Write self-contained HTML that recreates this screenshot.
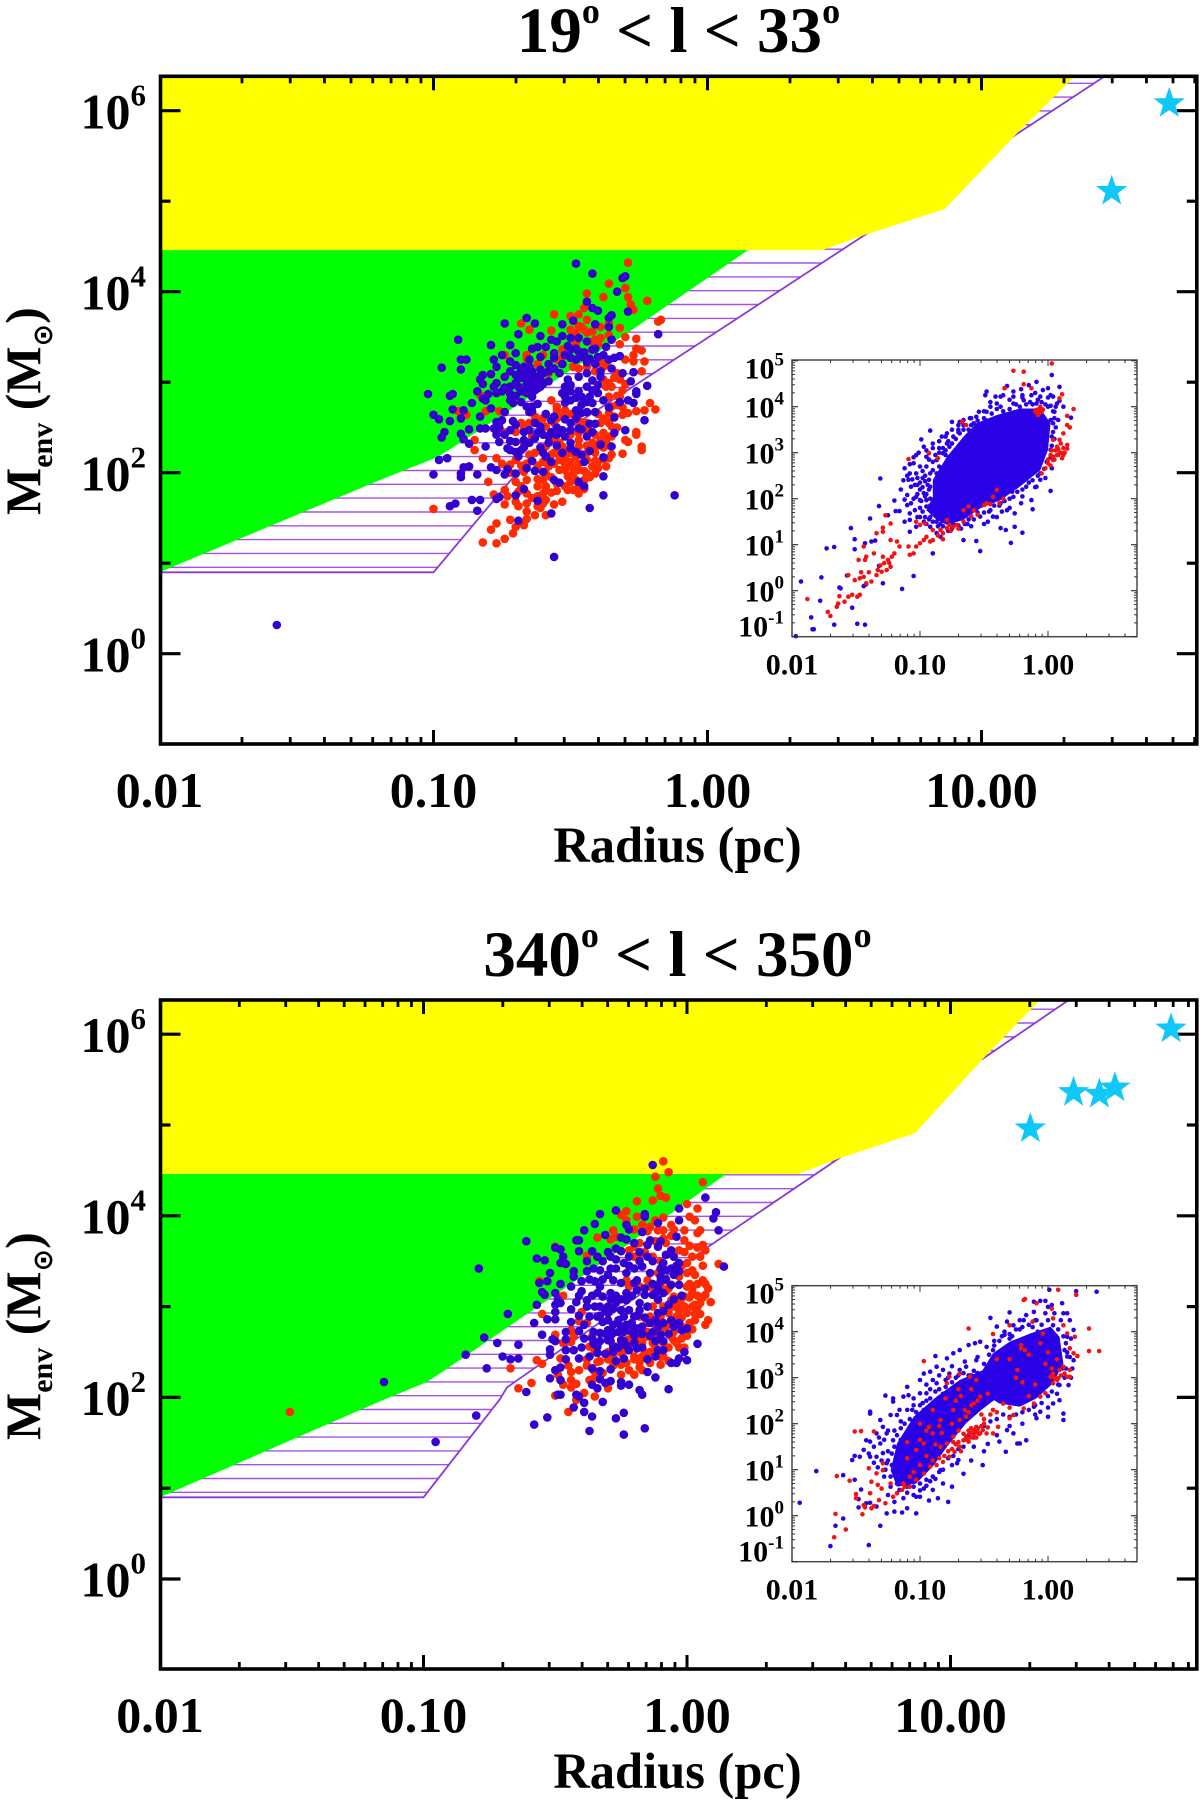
<!DOCTYPE html>
<html lang="en">
<head>
<meta charset="utf-8">
<title>Envelope mass versus radius</title>
<style>
html,body{margin:0;padding:0;background:#fff;}
svg{display:block;}
text{font-family:"Liberation Serif","DejaVu Serif",serif;font-weight:bold;fill:#000;}
</style>
</head>
<body>
<svg id="figure" xmlns="http://www.w3.org/2000/svg" width="1200" height="1806" viewBox="0 0 1200 1806">
<rect x="0" y="0" width="1200" height="1806" fill="#fff"/>
<g id="panel-1"></g>
<g id="panel-2"></g>
<g id="labels">
<text x="678.5" y="52" font-size="65" text-anchor="middle">19<tspan font-size="36" dy="-29">o</tspan><tspan dy="29"> &lt; l &lt; 33</tspan><tspan font-size="36" dy="-29">o</tspan></text>
<text x="677.5" y="976" font-size="65" text-anchor="middle">340<tspan font-size="36" dy="-29">o</tspan><tspan dy="29"> &lt; l &lt; 350</tspan><tspan font-size="36" dy="-29">o</tspan></text>
<text x="677.5" y="862" font-size="50.5" text-anchor="middle">Radius (pc)</text>
<text x="677.5" y="1788" font-size="50.5" text-anchor="middle">Radius (pc)</text>
<text transform="translate(40,515) rotate(-90)" font-size="50">M<tspan font-size="30" dy="12">env</tspan><tspan dy="-12"> (M</tspan><tspan font-size="27" dy="12" style="font-family:'DejaVu Sans',sans-serif">⊙</tspan><tspan dy="-12">)</tspan></text>
<text transform="translate(40,1440) rotate(-90)" font-size="50">M<tspan font-size="30" dy="12">env</tspan><tspan dy="-12"> (M</tspan><tspan font-size="27" dy="12" style="font-family:'DejaVu Sans',sans-serif">⊙</tspan><tspan dy="-12">)</tspan></text>
</g>
</svg>
<script>
// All pairs are [log10 radius (pc), log10 envelope mass (Msun)].
const xTickLabels = ['0.01','0.10','1.00','10.00'];
const xTickLogs = [-2,-1,0,1];
const yTickExponents = [0,2,4,6];
const yMinorExponents = [1,3,5];
const insetXTickLabels = ['0.01','0.10','1.00'];
const insetXTickLogs = [-2,-1,0];
const insetYExponents = [-1,0,1,2,3,4,5];

const yellowEdge = [[-2,6.38],[1.34,6.38],[1.13,5.75],[.865,4.91],[.575,4.63],[.42,4.46],[-2,4.46]];
const greenEdge = [[-2,4.46],[.148,4.46],[-.294,3.54],[-.929,2.28],[-.987,2.17],[-1.17,1.95],[-2,.90]];
const hatchEdge1 = [[-2,.90],[-1,.90],[-.626,2.25],[.575,4.63],[1.133,5.75],[1.45,6.38]];
const hatchEdge2 = [[-2,.90],[-1,.90],[-.71,1.98],[-.683,2.11],[.091,3.68],[.575,4.63],[1.133,5.75],[1.45,6.38]];

const stars1 = [[1.685,6.08],[1.475,5.11]];
const stars2 = [[1.837,6.06],[1.467,5.36],[1.565,5.34],[1.624,5.41],[1.303,4.96]];

const panel1Red = [[-.29,4.32],[-.36,4.09],[-.30,4.04],[-.44,3.98],[-.38,3.94],[-.29,3.94],[-.28,3.86],[-.22,3.90],[-.27,3.80],[-.45,3.82],[-.47,3.75],[-.56,3.75],[-.50,3.73],[-.68,3.65],[-.65,3.58],[-.57,3.57],[-.44,3.69],[-.46,3.61],[-.50,3.58],[-.48,3.54],[-.42,3.56],[-.39,3.49],[-.36,3.52],[-.32,3.60],[-.30,3.50],[-.32,3.42],[-.26,3.48],[-.24,3.35],[-.26,3.37],[-.27,3.30],[-.27,3.23],[-.23,3.23],[-.24,3.12],[-.18,3.67],[-.17,3.69],[-.21,2.77],[-.19,2.70],[-.23,2.69],[-.26,2.68],[-.29,2.66],[-.31,2.64],[-.26,2.45],[-.26,2.42],[-.30,2.36],[-.29,2.34],[-.24,2.29],[-.24,2.25],[-.31,2.21],[-.36,2.16],[-.37,2.07],[-.40,2.12],[-.42,2.07],[-.44,1.99],[-.47,2.03],[-.49,1.99],[-.52,2.03],[-.54,2.14],[-.56,2.22],[-.53,2.29],[-.58,2.07],[-.59,1.99],[-.59,1.85],[-.59,1.81],[-.56,1.65],[-.53,1.68],[-.49,1.81],[-.47,1.77],[-.51,1.81],[-.55,1.88],[-.62,1.74],[-.60,1.66],[-.61,1.61],[-.59,1.53],[-.63,1.53],[-.66,1.57],[-.69,1.63],[-.70,1.68],[-.73,1.74],[-.74,1.65],[-.74,1.81],[-.78,1.76],[-.80,1.90],[-.82,2.16],[-.77,2.16],[-.85,2.25],[-.85,2.36],[-.75,2.10],[-.72,2.09],[-.67,2.01],[-.66,1.92],[-.62,1.93],[-.66,1.77],[-.71,1.33],[-.70,1.40],[-.67,1.42],[-.66,1.49],[-.72,1.48],[-.77,1.44],[-.79,1.37],[-.82,1.23],[-.77,1.22],[-.74,1.27],[-1.00,1.60],[-.83,2.86],[-.81,2.68],[-.88,2.64],[-.91,2.68],[-.76,2.68],[-.75,2.45],[-.76,2.55],[-.67,2.51],[-.65,2.55],[-.62,2.57],[-.59,2.51],[-.56,2.55],[-.55,2.73],[-.55,2.69],[-.57,2.80],[-.52,2.69],[-.48,2.58],[-.47,2.58],[-.44,2.55],[-.39,2.55],[-.37,2.58],[-.36,2.66],[-.35,2.73],[-.36,2.84],[-.37,2.95],[-.36,2.99],[-.38,3.03],[-.41,3.12],[-.39,3.21],[-.38,3.17],[-.44,3.17],[-.49,3.17],[-.53,3.28],[-.52,3.34],[-.66,3.26],[-.74,3.30],[-.50,2.22],[-.48,2.18],[-.47,2.29],[-.42,2.33],[-.38,2.44],[-.36,2.40],[-.41,2.22],[-.44,2.14],[-.52,2.10],[-.50,2.07],[-.47,2.10],[-.54,2.18],[-.56,2.36],[-.59,2.29],[-.54,2.33],[-.52,2.25],[-.32,2.84],[-.31,2.91],[-.35,2.95],[-.32,3.03],[-.30,3.25],[-.39,3.61],[-.41,3.47],[-.45,3.58],[-.48,3.43],[-.53,3.36],[-.55,3.25],[-.64,2.40],[-.63,2.22],[-.66,2.10],[-.67,2.33],[-.54,2.03],[-.51,1.96],[-.48,1.92],[-.45,1.92],[-.61,1.74],[-.62,1.63],[-.66,1.66],[-.69,1.79],[-.59,1.70],[-.41,1.99],[-.44,2.22],[-.37,2.36],[-.35,2.51],[-.39,2.36],[-.47,2.36],
[-.52,2.4],[-.5,2.42],[-.47,2.44],[-.45,2.48],[-.43,2.45],[-.41,2.42],[-.44,2.3],[-.42,2.25],[-.4,2.3],[-.38,2.28],[-.36,2.3],[-.35,2.4],[-.33,2.5],[-.34,2.62],[-.36,2.55],[-.38,2.6],[-.4,2.65],[-.33,2.75],[-.31,2.72],[-.33,2.85],[-.34,3.05],[-.33,3.1],[-.3,2.98],[-.35,2.2],[-.38,2.15],[-.4,2.05],[-.45,2.02],[-.48,2.05],[-.5,2.12],[-.52,2.18],[-.54,2.26],[-.57,2.2],[-.56,2.1],[-.58,2.15],[-.6,2.12],[-.57,1.95],[-.6,1.92],[-.62,1.85],[-.57,1.78],[-.55,1.8],[-.52,1.85],[-.5,1.9],[-.47,1.86],[-.45,1.82],[-.43,1.95],[-.41,2.13],[-.62,2.08],[-.65,2.2],[-.7,2.14],[-.68,2.08],[-.72,2.0],[-.7,1.9],[-.68,1.85],[-.64,1.72],[-.6,1.77],[-.55,2.6],[-.53,2.62],[-.5,2.65],[-.46,2.55],[-.6,2.6],[-.63,2.62],[-.68,2.55],[-.7,2.45],[-.58,3.1],[-.62,3.2],[-.66,3.3],[-.6,3.3],[-.47,3.15],[-.42,3.45],[-.4,3.42],[-.44,3.55],[-.47,3.62],[-.36,3.65],[-.37,3.2]];

const panel1Blue = [[-.48,4.31],[-.42,4.20],[-.30,4.17],[-.31,4.15],[-.33,4.00],[-.44,3.89],[-.42,3.82],[-.40,3.79],[-.29,3.78],[-.35,3.74],[-.36,3.71],[-.36,3.61],[-.41,3.64],[-.49,3.68],[-.53,3.64],[-.63,3.65],[-.66,3.71],[-.74,3.65],[-.91,3.47],[-.79,3.41],[-.69,3.53],[-.61,3.51],[-.57,3.47],[-.55,3.45],[-.53,3.51],[-.50,3.49],[-.47,3.49],[-.44,3.45],[-.35,3.47],[-.37,3.39],[-.72,3.41],[-.70,3.32],[-.75,3.30],[-.78,3.25],[-.77,3.17],[-.88,3.25],[-.90,3.25],[-.90,3.14],[-.97,3.16],[-1.02,2.87],[-.94,2.85],[-.93,2.87],[-.86,2.77],[-.93,2.70],[-.89,2.69],[-.90,2.60],[-1.00,2.64],[-.98,2.59],[-.94,2.57],[-.96,2.45],[-.97,2.39],[-.90,2.43],[-.89,2.37],[-.87,2.32],[-.87,2.48],[-.83,2.62],[-.83,2.49],[-.81,2.49],[-.78,2.49],[-.76,2.50],[-.77,2.42],[-.76,2.34],[-.73,2.27],[-.81,2.29],[-.98,2.14],[-.95,2.16],[-1.00,1.98],[-.87,2.07],[-.89,2.06],[-.90,1.99],[-.90,1.95],[-.84,1.98],[-.79,2.06],[-.77,2.03],[-.74,1.98],[-.73,2.04],[-.70,1.99],[-.64,2.13],[-.63,2.02],[-.60,2.01],[-.57,2.12],[-.56,1.92],[-.54,1.89],[-.47,1.90],[-.45,1.85],[-.38,1.96],[-.38,1.75],[-.43,1.61],[-.57,1.55],[-.62,1.69],[-.67,1.82],[-.70,1.75],[-.76,1.73],[-.77,1.71],[-.83,1.70],[-.86,1.70],[-.92,1.66],[-.94,1.63],[-.84,1.58],[-.69,1.47],[-.56,1.07],[-.12,1.75],[-.18,3.53],[-.22,2.96],[-.23,2.58],[-.26,2.87],[-.27,2.77],[-.29,2.80],[-.30,2.47],[-.34,2.44],[-.35,2.29],[-.38,2.17],[-.34,2.61],[-.32,2.78],[-.31,3.10],[-.27,3.11],[-.28,3.01],[-.26,2.90],[-.32,3.29],[-.34,3.27],[-.36,3.25],[-.35,3.15],[-.39,3.12],[-.39,3.06],[-.42,3.02],[-.44,3.10],[-.47,3.06],[-.51,3.03],[-.54,3.10],[-.58,3.01],[-.61,3.03],[-.64,2.95],[-.66,2.97],[-.63,2.99],[-.63,2.91],[-.61,2.95],[-.64,2.84],[-.66,2.88],[-.69,2.95],[-.70,2.99],[-.74,3.06],[-.77,2.99],[-.74,2.94],[-.77,2.88],[-.79,3.09],[-.82,3.08],[-.83,3.03],[-.82,2.98],[-.72,3.23],[-.70,3.19],[-.67,3.17],[-.65,3.25],[-.61,3.28],[-.64,3.37],[-.62,3.39],[-.59,3.39],[-.56,3.32],[-.56,3.27],[-.58,3.20],[-.65,3.17],[-.66,3.10],[-.64,3.06],[-.61,3.14],[-.51,3.40],[-.50,3.36],[-.47,3.34],[-.46,3.28],[-.48,3.25],[-.42,3.36],[-.41,3.37],[-.43,3.26],[-.53,2.88],[-.52,2.84],[-.50,2.90],[-.47,2.90],[-.46,2.84],[-.50,2.80],[-.52,2.77],[-.48,2.69],[-.43,2.84],[-.42,2.91],[-.40,2.88],[-.42,2.77],[-.41,2.67],[-.44,2.67],[-.46,2.66],[-.59,2.65],[-.56,2.62],[-.57,2.58],[-.52,2.59],[-.64,2.73],[-.65,2.67],[-.72,2.80],[-.71,2.77],[-.74,2.67],[-.81,2.80],[-.79,2.71],[-.82,2.82],[-.71,2.57],[-.70,2.53],[-.72,2.47],[-.67,2.45],[-.65,2.47],[-.61,2.51],[-.61,2.47],[-.62,2.44],[-.58,2.40],[-.58,2.33],[-.55,2.42],[-.53,2.47],[-.50,2.47],[-.47,2.49],[-.43,2.54],[-.41,2.54],[-.44,2.40],[-.52,2.40],[-.50,2.33],[-.50,2.27],[-.48,2.23],[-.43,2.24],[-.45,2.12],[-.39,2.31],[-.67,2.36],[-.67,2.28],[-.70,2.34],[-.70,2.23],[-.69,2.18],[-.61,2.28],[-.60,2.22],[-.59,2.18],[-1.572,.317],
[-.68,3.05],[-.66,3.02],[-.64,3.0],[-.62,2.93],[-.60,2.98],[-.66,2.92],[-.68,2.9],[-.70,3.08],[-.72,3.12],[-.68,3.14],[-.64,3.12],[-.62,3.06],[-.60,3.1],[-.58,3.12],[-.56,3.15],[-.53,3.2],[-.52,3.3],[-.50,3.27],[-.48,3.37],[-.45,3.33],[-.44,3.22],[-.41,3.2],[-.40,3.28],[-.38,3.3],[-.72,2.87],[-.70,2.85],[-.68,2.78],[-.66,2.73],[-.64,2.68],[-.62,2.76],[-.72,2.95],[-.75,2.9],[-.78,2.95],[-.8,2.87],[-.84,2.9],[-.52,2.95],[-.5,2.97],[-.48,2.83],[-.46,2.75],[-.44,2.78],[-.44,2.95],[-.4,2.97],[-.38,2.8],[-.36,2.72],[-.48,2.6],[-.5,2.55],[-.46,2.48],[-.42,2.45],[-.55,2.5],[-.57,2.45],[-.6,2.42],[-.63,2.55],[-.65,2.33],[-.63,2.38],[-.55,2.3],[-.53,2.22],[-.46,2.2],[-.75,2.58],[-.77,2.56],[-.74,2.42],[-.72,2.35],[-.72,2.25],[-.68,2.25],[-.66,2.05]];

const panel2Red = [[-.09,4.60],[-.07,4.48],[-.12,4.43],[-.11,4.30],[-.13,4.17],[-.08,4.20],[-.10,4.22],[.06,4.37],[-.19,4.16],[0,4.13],[.04,4.08],[-.23,4.05],[-.25,4.01],[-.19,3.99],[-.23,3.95],[-.28,3.84],[-.34,3.76],[-.29,3.74],[-.27,3.77],[-.38,3.56],[-.34,3.55],[-.50,3.66],[-.56,3.28],[-.47,3.12],[-.55,2.92],[-.67,2.32],[-.57,2.41],[-.55,2.37],[-.64,2.10],[-.59,2.16],[-.50,2.02],[-.45,1.84],[-.41,2.30],[-.44,2.28],[-.44,2.19],[-.44,2.11],[-.47,2.14],[-.49,2.25],[-.48,2.43],[-.50,2.69],[-.44,2.61],[-.44,2.74],[-.41,2.84],[-.40,2.94],[-.38,2.42],[-.37,2.56],[-.34,2.39],[-.35,2.22],[-.37,2.19],[-.30,2.10],[-.35,2.01],[-.42,1.97],[.12,3.47],[.07,2.80],[.03,2.85],[.05,3.04],[.07,3.13],[.03,3.02],[.06,3.29],[.07,3.25],[.04,3.25],[.02,3.15],[0,2.93],[-.03,2.96],[-.05,2.63],[-.06,2.67],[-.09,2.60],[-.13,2.60],[-.18,2.33],[-.22,2.30],[-.25,2.36],[-.27,2.56],[-.25,2.49],[-.21,2.60],[-.19,2.63],[-.15,2.67],[-.11,2.67],[-.06,2.82],[-.04,2.89],[-.06,3.07],[-.09,3.0],[-.11,3.07],[-.14,3.22],[-.15,3.29],[-.11,3.37],[-.08,3.29],[-.03,3.33],[0,3.37],[.02,3.40],[.05,3.55],[.07,3.62],[.06,3.68],[.04,3.81],[.05,3.84],[.03,3.95],[.01,3.99],[-.01,3.84],[-.01,3.73],[.01,3.67],[-.06,3.90],[-.09,3.84],[-.11,3.84],[-.14,3.88],[-.09,3.98],[-.18,3.70],[-.20,3.66],[-.22,3.62],[-.18,3.57],[-.13,3.55],[-.10,3.50],[-.09,3.40],[-.05,3.11],[-.01,3.11],[.02,3.20],[-.08,3.17],[-.10,3.22],[-.13,3.0],[-.18,2.89],[-.15,2.82],[-.23,2.63],[-.25,2.71],[-.11,2.83],[-.08,2.78],[-.17,2.60],[-.20,2.45],[-.18,2.39],[-.23,2.38],[-.28,2.45],[-.32,2.27],[-.355,2.30],[-.34,2.49],[-.36,2.67],[-.38,2.82],[0,3.22],[-.03,3.07],[-.05,3.0],[-.10,2.89],[-.14,2.89],[-.05,3.42],[-.23,3.29],[-.22,3.22],[-.18,3.22],[-.02,3.02],[.01,3.1],[.04,3.0],[-.02,2.78],[-.07,2.93],[-.07,3.2],[-.12,2.75],[-.15,3.0],[-.2,2.75],[-.16,2.5],[-.1,2.45],[-1.507,1.84],
[-.2,2.42],[-.17,2.45],[-.14,2.5],[-.12,2.55],[-.09,2.45],[-.07,2.55],[-.04,2.6],[-.02,2.65],[0,2.68],[.01,2.82],[.03,2.92],[-.01,3.0],[-.02,2.88],[.02,3.0],[.05,2.92],[.06,3.1],[.08,3.2],[.09,3.05],[.04,3.12],[.01,3.25],[.03,3.35],[.06,3.45],[.02,3.55],[.04,3.65],[-.01,3.6],[0,3.48],[-.02,3.45],[.08,2.85],[.02,2.75],[-.05,2.72],[-.03,2.55],[-.01,2.55],[-.07,2.4],[-.1,2.36],[-.14,2.38],[-.17,2.3],[-.2,2.25],[-.25,2.25],[-.28,2.35],[-.3,2.42],[-.33,2.4],[-.3,2.5],[-.23,2.52],[-.15,2.72],[-.13,2.68],[-.1,2.72],[-.17,2.65],[-.21,2.68],[-.25,2.55],[-.35,2.5],[-.38,2.35],[-.42,2.15],[-.39,2.05],[-.45,2.35],[-.47,2.6],[-.43,2.68],[-.08,3.7],[-.12,3.72],[-.16,3.6],[-.2,3.55],[-.06,3.78],[-.03,3.62],[-.17,3.9],[-.15,3.83],[-.2,3.85],[-.12,3.95],[-.09,3.75],[-.05,3.85]];

const panel2Blue = [[-.13,4.56],[-.16,4.02],[-.16,3.99],[-.27,4.06],[-.33,4.02],[-.35,3.91],[-.39,3.84],[-.61,3.72],[-.41,3.73],[-.42,3.73],[-.31,3.79],[-.23,3.90],[-.22,3.85],[-.25,3.76],[-.23,3.74],[-.17,3.82],[-.11,3.92],[-.03,4.08],[-.03,3.95],[-.04,3.77],[.11,4.04],[.10,3.97],[.12,3.84],[.07,4.20],[.14,3.44],[-.50,3.65],[-.48,3.63],[-.47,3.55],[-.48,3.48],[-.46,3.47],[-.57,3.53],[-.54,3.51],[-.41,3.61],[-.36,3.61],[-.79,3.42],[-.52,3.37],[-.53,3.28],[-.48,3.25],[-.56,3.26],[-.55,3.16],[-.54,3.13],[-.50,3.15],[-.49,3.08],[-.48,3.04],[-.50,3.02],[-.50,2.94],[-.57,3.02],[-.68,2.92],[-.58,2.82],[-.53,2.86],[-.50,2.86],[-.44,2.97],[-.44,2.83],[-.41,2.73],[-.55,2.69],[-.51,2.64],[-.50,2.62],[-.46,2.64],[-.46,2.72],[-.52,2.53],[-.52,2.47],[-.46,2.52],[-.43,2.52],[-.46,2.42],[-.50,2.30],[-.48,2.33],[-.52,2.21],[-.48,2.19],[-.48,2.03],[-.49,2.03],[-.77,2.66],[-.72,2.60],[-.64,2.58],[-.84,2.47],[-.70,2.45],[-.67,2.42],[-.64,2.43],[-.76,2.32],[-.80,1.80],[-.61,2.06],[-.43,1.89],[-.53,1.78],[-.58,1.70],[-.39,1.84],[-.36,1.79],[-.37,1.63],[-.27,1.77],[-.24,1.83],[-.24,1.59],[-.16,1.66],[-.32,1.95],[-.39,1.94],[-.41,2.01],[-.42,2.03],[-.33,2.29],[-.29,2.31],[-.29,2.18],[-.31,2.16],[-.25,2.17],[-.25,2.13],[-.22,2.14],[-.18,2.08],[-.17,2.03],[-.07,2.09],[-.15,2.28],[-.12,2.22],[.04,2.59],[-.06,2.38],[-.04,2.38],[-.03,2.43],[-.01,2.50],[0,2.41],[-.02,2.74],[0,2.76],[-.09,2.52],[-.11,2.52],[-.12,2.45],[-.15,2.42],[-.19,2.54],[-.22,2.52],[-.24,2.43],[-.27,2.40],[-.36,2.14],[-.34,2.10],[-.34,2.49],[-.31,2.48],[-.355,2.59],[-.34,2.56],[-.28,2.56],[-.24,2.62],[-.29,2.62],[-.25,2.63],[-.17,2.78],[-.19,2.76],[-.13,2.72],[-.10,2.69],[-.11,2.78],[-.09,2.82],[-.06,2.85],[-.11,2.93],[-.15,3.0],[-.18,2.96],[-.20,2.89],[-.25,2.96],[-.24,2.89],[-.30,3.0],[-.30,2.93],[-.32,2.83],[-.30,2.74],[-.33,2.71],[-.355,2.72],[-.37,2.89],[-.34,2.89],[-.33,3.22],[-.34,3.15],[-.32,3.11],[-.29,3.15],[-.28,3.29],[-.25,3.26],[-.23,3.37],[-.20,3.26],[-.19,3.29],[-.14,3.37],[-.10,3.33],[-.10,3.28],[-.17,3.44],[-.18,3.50],[-.22,3.55],[-.25,3.61],[-.27,3.64],[-.29,3.55],[-.32,3.50],[-.33,3.40],[-.355,3.42],[-.38,3.39],[-.43,3.39],[-.43,3.33],[-.40,3.28],[-.40,3.17],[-.42,3.05],[-.38,3.07],[-.38,3.0],[-.44,3.22],[-.15,3.68],[-.14,3.73],[-.11,3.66],[-.10,3.72],[-.06,3.62],[-.08,3.57],[-.05,3.55],[-.03,3.48],[-.03,3.39],[-.05,3.35],[-.06,3.24],[-.03,3.24],[-.02,3.12],[-.09,3.48],[-.13,3.13],[-.16,3.13],[-.18,3.04],[-.23,3.07],[-.27,3.04],[-.25,2.78],[-.22,2.74],[-.28,2.71],[-.30,2.63],[-1.15,2.17],[-.954,1.51],
[-.33,3.0],[-.31,2.95],[-.29,3.08],[-.27,3.12],[-.25,3.08],[-.23,3.15],[-.21,3.12],[-.19,3.18],[-.16,3.2],[-.13,3.25],[-.11,3.2],[-.08,3.3],[-.06,3.42],[-.04,3.45],[-.1,3.42],[-.13,3.5],[-.15,3.55],[-.18,3.6],[-.2,3.42],[-.22,3.45],[-.24,3.48],[-.27,3.42],[-.3,3.35],[-.32,3.3],[-.35,3.28],[-.36,3.12],[-.35,3.0],[-.33,2.9],[-.3,2.85],[-.28,2.8],[-.26,2.85],[-.23,2.8],[-.21,2.82],[-.19,2.9],[-.16,2.88],[-.14,2.82],[-.12,2.85],[-.09,2.95],[-.07,3.02],[-.05,3.08],[-.11,3.08],[-.09,3.15],[-.22,2.96],[-.28,2.98],[-.31,2.7],[-.29,2.68],[-.26,2.72],[-.24,2.72],[-.2,2.68],[-.17,2.7],[-.14,2.68],[-.12,2.62],[-.09,2.62],[-.07,2.7],[-.05,2.78],[-.03,2.82],[-.28,2.5],[-.26,2.55],[-.23,2.57],[-.2,2.6],[-.17,2.55],[-.33,2.62],[-.36,2.65],[-.39,2.8],[-.41,2.9],[-.39,2.65],[-.37,2.45],[-.41,2.43],[-.4,2.55],[-.41,3.12],[-.37,3.3],[-.29,3.42],[-.36,2.32],[-.33,2.2],[-.38,3.5],[-.34,3.55],[-.3,3.6],[-.27,3.52],[-.2,3.7],[-.08,3.4],[-.12,3.15]];

const inset1Core = [[-.90,2.04],[-.90,2.41],[-.79,2.91],[-.66,3.35],[-.56,3.64],[-.40,3.82],[-.22,3.96],[-.06,3.96],[.02,3.64],[0,3.06],[-.06,2.62],[-.22,2.26],[-.37,1.97],[-.53,1.79],[-.66,1.54],[-.79,1.43],[-.87,1.54],[-.95,1.75]];

const inset1Red = [[.03,4.94],[-.27,4.78],[-.19,4.76],[-.19,4.49],[.11,4.27],[.09,4.18],[.2,3.95],[.15,3.8],[.15,3.6],[.17,3.55],[.15,3.17],[.15,3.09],[.12,2.95],[.09,2.99],[.07,2.95],[.04,2.84],[0,2.77],[-.02,2.66],[-.05,2.55],[-1.88,-.18],[-1.72,-.46],[-1.70,-.55],[-1.65,-.35],[-1.64,-.28],[-1.63,-.12],[-1.59,-.24],[-1.56,-.13],[-1.53,-.09],[-1.49,-.13],[-1.47,-.09],[-1.56,.34],[-1.51,.23],[-1.47,.27],[-1.44,.3],[-1.42,.16],[-1.38,.2],[-1.34,.34],[-1.30,.41],[-1.26,.45],[-1.23,.52],[-1.25,.67],[-1.29,.74],[-1.22,.74],[-1.2,.81],[-1.16,.96],[-1.18,1.07],[-1.23,1.1],[-1.29,1.28],[-1.29,1.37],[-1.34,1.25],[-1.27,1.64],[-1.23,1.46],[-1.43,.67],[-1.42,.74],[-1.48,.67],[-1.44,.96],[-1.36,.81],[-1.09,.96],[-1.05,.81],[-1.08,.78],[-1.03,.96],[-1,1.03],[-.97,1.10],[-.95,1.17],[-.92,1.07],[-.9,1.1],[-.82,1.25],[-.79,1.36],[-.77,1.43],[-.74,1.39],[-.79,1.54],[-1.03,1.5],[-1,1.43],[-.96,1.46],[-.9,1.32],[-.84,1.32],[-.71,1.43],[-.66,1.75],[-.62,1.83],[-.58,1.75],[-.5,1.86],[-.48,1.9],[-.43,2.04],[-.4,2.19],[-1.09,2.86],[-.93,2.99],[-.86,2.88],[-.67,3.67],[-.64,3.6],[-.34,4.4],[-.13,4.4],[.09,3.28],[.12,3.42],[.04,3.28],[.07,3.13],[.08,2.95],[.04,2.91],[.02,2.95],[-.09,3.93],[-.06,4],[-.08,3.82],[-.1,3.89],[-.05,3.89],[.1,3.0],[.12,3.1],[.06,3.05],[.1,3.2],[.03,3.05],[-1.33,.45],[-1.31,.55],[-1.28,.6],[-1.24,.6],[-1.4,.4],[-1.46,.4],[-.86,1.2],[-.82,1.12],[-.76,1.3],[-.7,1.35],[-.66,1.5],[-.6,1.62],[-.55,1.65],[-.45,1.88],[-.38,1.9],[-.35,2.0],[.11,2.88],[.13,3.0],[.05,2.85],[.08,3.08],[.0,2.85],[.02,2.72],[-.07,3.86],[-.04,3.94],[-.07,3.95]];

const inset1Blue = [[-1.97,-.99],[-1.93,.2],[-1.85,-.58],[-1.84,-.84],[-1.83,-.84],[-1.77,.29],[-1.78,-.22],[-1.63,.07],[-1.62,.05],[-1.67,-.74],[-1.53,-.37],[-1.49,-.72],[-1.43,-.74],[-1.57,.33],[-1.73,.92],[-1.67,.95],[-1.54,1.36],[-1.51,1.12],[-1.51,.9],[-1.43,1.03],[-1.39,1.57],[-1.38,1.07],[-1.35,1.09],[-1.31,2.44],[-1.32,1.84],[-1.2,1.96],[-1.25,1.64],[-1.19,1.73],[-1.16,1.73],[-1.12,1.5],[-1.08,1.28],[-1.05,.32],[-1.14,.04],[-1.44,.1],[-1.32,.54],[-1.29,.16],[-1.42,.14],[-.9,.81],[-.53,.86],[-.56,1.08],[-.66,1.1],[-.29,1.04],[-.37,1.36],[-.33,1.32],[-.26,1.39],[-.2,1.26],[-.43,1.61],[-.32,1.75],[-.26,1.68],[-.12,1.77],[-.13,1.97],[-.21,1.9],[-.09,2.26],[.02,2.17],[-.06,2.41],[.03,2.66],[.03,4.69],[.09,4.43],[.09,4.13],[.12,4.0],[.18,3.76],[-.32,4.45],[-.48,4.33],[-.49,4.25],[-.41,4.22],[-.35,4.25],[-.27,4.33],[-.21,4.38],[-.09,4.54],[-.15,4.47],[-.04,4.36],[0,4.40],[.02,4.25],[.04,4.22],[.07,4.07],[-.06,4.22],[-.13,4.25],[-.27,4.07],[-.37,4.0],[-.48,3.89],[-.54,3.89],[-.61,3.75],[-.66,3.71],[-.69,3.67],[-.75,3.67],[-.79,3.42],[-.83,3.35],[-.92,3.48],[-.99,3.29],[-.90,3.2],[-.97,3.13],[-1.03,2.95],[-.95,2.91],[-1.05,2.77],[-1.12,2.66],[-1.08,2.55],[-1.03,2.55],[-1.09,2.41],[-1.07,2.26],[-1.10,2.08],[-1.03,2.04],[-1.0,1.97],[-1.04,1.75],[-1.10,1.86],[-1.08,1.68],[-1.08,1.54],[-1.03,1.39],[-.97,1.5],[-.92,1.39],[-.87,1.25],[-.84,1.17],[-.90,1.68],[-.95,1.83],[-.97,2.12],[-.93,2.41],[-.90,2.62],[-.79,3.2],[-.74,3.35],[-.69,3.42],[-.58,3.64],[-.56,3.78],[-.56,3.42],[-.37,4.22],[-.40,4.07],[-.27,4.22],[-.19,4.14],[-.09,4.07],[0,4.0],[.05,3.89],[.08,3.71],[.04,3.64],[-.87,2.84],[-.82,2.99],[-.77,3.13],[-.87,2.55],[-.92,2.26],[-.95,1.97],[-.87,1.83],[-.79,1.68],[-.74,1.54],[-.69,1.61],[-.61,1.68],[-.53,1.61],[-.45,1.75],[-.37,1.9],[-.27,2.04],[-.17,2.26],[-.06,2.55],[.02,3.06],[.03,3.35],[.02,3.71],[-.06,3.89],[-1.02,2.3],[-1.0,2.7],[-.98,2.45],[-1.0,2.2],[-.85,3.0],[-.7,3.5],[-.45,4.0],[-.2,4.2],[-.14,4.1],[-.96,2.05],[-1.02,1.6],[-.92,1.6],[-.84,1.45],[-.75,1.35],[-.63,1.45],[-.47,1.5],[-.36,1.72],
[-1.1,2.5],[-1.06,2.42],[-1.04,2.3],[-1.02,2.45],[-1,2.35],[-.98,2.6],[-.96,2.5],[-.94,2.3],[-.92,2.55],[-.95,2.7],[-.93,2.85],[-.9,2.8],[-.88,2.95],[-.85,2.7],[-.85,3.1],[-.82,3.1],[-.8,3.05],[-.8,2.95],[-.78,3.25],[-.75,3.2],[-.72,3.3],[-.7,3.45],[-.66,3.5],[-.62,3.5],[-.6,3.6],[-.55,3.7],[-.5,3.75],[-.48,3.7],[-.44,3.85],[-.4,3.95],[-.35,3.9],[-.3,3.95],[-.25,4.05],[-.22,4.0],[-.17,4.05],[-.12,4.05],[-.05,4.1],[-.02,4.05],[.02,4.02],[.04,3.9],[.05,3.75],[.06,3.55],[.04,3.45],[.05,3.3],[.03,3.15],[.02,2.9],[-.01,2.8],[-.03,2.65],[-.08,2.5],[-.12,2.4],[-.15,2.35],[-.2,2.2],[-.24,2.15],[-.28,2.15],[-.3,2.0],[-.34,1.95],[-.38,1.85],[-.42,1.85],[-.46,1.72],[-.5,1.7],[-.55,1.7],[-.58,1.55],[-.62,1.55],[-.65,1.45],[-.7,1.42],[-.74,1.45],[-.78,1.3],[-.82,1.4],[-.86,1.4],[-.9,1.5],[-.93,1.55],[-.96,1.6],[-.98,1.72],[-1,1.8],[-.92,1.85],[-.88,1.75],[-.84,1.65],[-.8,1.55],[-.99,1.95],[-1.02,2.1],[-1.05,2.0],[-1.07,1.9],[-.95,2.1],[-.92,2.0],[-.98,2.25],[-.96,2.38],[-.93,2.2],[-1.12,1.98],[-1.15,2.2],[-1.13,2.4],[-1.08,2.75],[-1.05,2.9],[-1.01,3.0],[-.95,3.05],[-.9,3.1],[-.85,3.25],[-.8,3.35],[-.75,3.5],[-.7,3.6],[-.66,3.6],[-.6,3.75],[-.5,3.9],[-.45,4.1],[-.3,4.15],[-.2,4.25],[-.1,4.3],[0,4.2],[-.08,4.15],[.06,4.0],[-1.0,1.6],[-.95,1.45],[-.87,1.5],[-.76,1.55],[-.68,1.35],[-.6,1.4],[-.5,1.45],[-.4,1.6],[-.3,1.8],[-.2,2.05],[-.1,2.25],[-.02,2.45]];

const inset2CoreUpper = [[-.51,3.17],[-.43,3.53],[-.30,3.78],[-.14,3.96],[.02,4.11],[.09,3.89],[.12,3.31],[.04,2.88],[-.09,2.55],[-.22,2.37],[-.38,2.44],[-.51,2.66]];
const inset2CoreLower = [[-1.18,1.57],[-1.05,2.15],[-.87,2.59],[-.69,2.95],[-.48,3.2],[-.38,2.6],[-.52,2.3],[-.64,2.01],[-.77,1.57],[-.90,1.07],[-1.03,.70],[-1.18,.63],[-1.23,.99]];

const inset2Red = [[-1.51,1.83],[-1.46,1.84],[-1.36,1.83],[-1.65,.86],[-1.55,.76],[-1.66,.04],[-1.67,-.47],[-1.58,-.3],[-1.5,.47],[-1.5,.38],[-1.39,.49],[-1.45,.03],[-1.44,.23],[-1.43,.18],[-1.38,.16],[-1.36,.21],[-1.32,.34],[-1.27,.27],[-1.4,1.03],[-1.38,.74],[-1.34,.92],[-1.33,.67],[-1.3,.59],[-1.29,1.14],[-1.29,.99],[-1.23,.7],[-1.21,.41],[-1.14,.56],[-1.12,.63],[-1.08,.85],[-1.18,.49],[-.97,3.36],[-.62,4.07],[-.19,4.69],[-.18,4.71],[.08,4.91],[.22,4.8],[.32,4.07],[.32,3.58],[.40,3.58],[.23,3.47],[.17,3.64],[.2,3.53],[.17,3.17],[.15,3.02],[.07,2.95],[.04,2.88],[.09,3.17],[.12,3.24],[.02,3.02],[.04,3.09],[.13,3.09],[.17,3.02],[.08,2.99],[-.02,2.66],[-.06,2.59],[-.11,2.44],[-.19,2.33],[-.27,2.19],[-.30,2.12],[-.39,1.93],[-.43,1.79],[-.48,1.79],[-.51,1.86],[-.53,1.79],[-.56,1.93],[-.58,1.86],[-.61,1.79],[-.64,1.72],[-.66,1.64],[-.62,1.61],[-.58,1.72],[-.69,1.5],[-.73,1.39],[-.77,1.28],[-.82,1.17],[-.87,1.1],[-.92,1.07],[-.97,.92],[-1.03,.78],[-1.08,.63],[-1.13,.7],[-.69,2.08],[-.64,2.15],[-.74,2.3],[-.79,2.88],[-.77,3.02],[-.69,3.09],[-.56,2.95],[-.61,3.02],[-.84,2.08],[-.9,1.79],[-.97,1.57],[-1.03,1.43],[-.93,1.93],[-.74,1.72],[-.79,1.57],[-.84,1.5],[-.21,3.64],[-.18,3.6],[-.21,3.71],[-.04,3.96],[-.06,3.75],[-.24,3.17],[-.35,2.44],[-.43,2.3],[-.58,2.44],[-.53,2.59],[-.12,4.22],[-.09,4.62],[.03,4.5],[.04,4.29],[.12,4.14],[.15,3.96],[.21,3.89],[-.43,3.95],[-.3,4.14],[-.6,1.9],[-.57,1.8],[-.55,1.87],[-.52,1.95],[-.5,2.0],[-.6,1.7],[-.63,1.68],[-.66,1.78],[-.7,1.6],[-.68,1.4],[-.75,1.45],[-.78,1.4],[-.81,1.3],[-.85,1.25],[-.9,1.2],[-.72,2.5],[-.68,2.6],[-.65,2.3],[-.6,2.4],[-.5,2.1],[-.45,2.2],[-.4,2.25],[-1.0,1.1],[-.95,1.3],[-1.05,.95],[-1.1,1.25],[-.88,1.55],[-.83,1.8],[.05,3.0],[.1,3.05],[.03,3.2],[-.02,3.3],[-.25,3.0],[-.4,3.4],[-.52,2.2],[-.56,1.7],[-.54,1.78],[-.59,1.8],[-.47,1.92],[-.62,1.85],[-.65,1.65],[-.72,1.55],[-.74,1.6],[-.95,1.85],[-1.0,1.65],[-.85,1.95],[-.75,2.0],[-.7,1.85],[-.62,2.25],[-.55,2.5],[-.47,2.65],[-.6,2.75],[-.7,2.75],[-.8,2.55],[-.9,2.3],[-1.0,2.0],[-1.1,1.6],[-.3,2.35],[-.15,2.6],[-.1,2.85],[-.3,3.4],[-.15,3.5],[.0,3.55],[.07,3.4],[-.2,2.9]];

const inset2Blue = [[-1.94,.28],[-1.81,.97],[-1.70,-.66],[-1.66,-.22],[-1.60,-.06],[-1.60,.88],[-1.53,1.21],[-1.51,1.3],[-1.47,1.28],[-1.51,.78],[-1.46,.57],[-1.48,.36],[-1.48,.18],[-1.42,.27],[-1.39,.28],[-1.40,-.64],[-1.31,-.22],[-1.34,.2],[-1.26,.05],[-1.2,.09],[-1.14,.07],[-1.10,.16],[-1.03,.05],[-1.13,.38],[-1.03,.41],[-1.0,.41],[-.93,.33],[-.86,.38],[-.78,.3],[-.90,.56],[-.97,.59],[-.82,.7],[-.75,.63],[-.66,.91],[-.51,1.1],[-.71,1.14],[-.70,1.21],[-.58,1.5],[-.47,1.56],[-.38,1.61],[-.33,1.39],[-.24,1.57],[-.22,1.57],[-.17,1.64],[-.27,1.79],[-.32,1.86],[-.09,2.12],[.12,2.22],[.12,2.08],[0,2.15],[-.06,2.26],[-.11,2.37],[.04,2.44],[.09,2.51],[.38,4.87],[.22,4.88],[.01,4.91],[.11,4.62],[-.11,4.65],[-.06,4.67],[-.02,4.67],[0,4.54],[.03,4.58],[.05,4.4],[.12,4.4],[.15,4.4],[-.30,4.42],[-.45,4.3],[-.32,4.22],[-.27,4.14],[-.40,4.11],[-.34,4.0],[-.34,3.93],[-.19,4.25],[-.17,4.36],[-.11,4.43],[-.09,4.25],[.04,4.14],[.17,4.25],[.15,3.89],[.2,4.04],[-.53,3.78],[-.57,3.75],[-.62,3.71],[-.69,3.6],[-.74,3.53],[-.79,3.42],[-.88,3.47],[-.92,3.13],[-.87,3.24],[-.82,3.17],[-.97,3.09],[-1,2.95],[-.9,2.95],[-1.10,2.8],[-1.27,2.61],[-1.21,2.55],[-1.21,2.48],[-1.13,2.59],[-1.09,2.62],[-1.05,2.55],[-1.39,2.26],[-1.39,2.22],[-1.31,2.08],[-1.23,2.19],[-1.18,2.19],[-1.16,2.3],[-1,2.66],[-.95,2.66],[-.87,2.88],[-.77,3.09],[-.69,3.17],[-.64,3.24],[-.56,3.38],[-.48,3.67],[-.43,3.6],[.2,3.38],[.15,3.46],[.09,2.84],[.16,2.84],[-1.42,1.64],[-1.39,1.61],[-1.44,1.43],[-1.36,1.5],[-1.34,1.79],[-1.29,1.93],[-1.26,1.79],[-1.21,1.64],[-1.31,1.57],[-1.39,1.28],[-1.34,1.28],[-1.29,1.36],[-1.26,1.14],[-1.18,1.28],[-1.21,.99],[-1.23,.85],[-1.18,.7],[-1.23,.63],[-1.16,.56],[-1.10,.63],[-1.05,.63],[-1,.7],[-.95,.78],[-.9,.85],[-.84,.99],[-1.25,1.4],[-1.28,1.65],[-1.2,1.85],[-1.15,1.9],[-1.1,2.3],[-.98,2.45],[-.92,2.75],[-.8,2.8],[-.72,2.8],[-.6,3.05],[-1.12,1.1],[-1.12,.85],[-.98,1.7],[-.9,2.1],[-.8,2.2],[-.7,2.35],[-.62,2.6],[-.55,2.7],[-.45,2.95],[-.42,3.8],[-.3,3.95],[-.22,4.05],[-.15,4.15],[-.08,4.0],[.06,3.7],[.13,3.6],[.11,3.2],
[-1.25,1.2],[-1.22,1.35],[-1.2,1.5],[-1.18,1.75],[-1.15,1.65],[-1.12,2.0],[-1.1,1.8],[-1.08,2.1],[-1.06,2.3],[-1.03,2.25],[-1,2.4],[-.97,2.3],[-.95,2.5],[-.92,2.55],[-.9,2.45],[-.88,2.7],[-.85,2.75],[-.82,2.65],[-.8,2.95],[-.78,3.0],[-.75,2.9],[-.72,3.0],[-.7,3.05],[-.66,3.1],[-.62,3.05],[-.58,3.15],[-.55,3.1],[-.5,3.3],[-.46,3.5],[-.42,3.7],[-.38,3.8],[-.36,3.9],[-.3,3.85],[-.25,4.05],[-.2,4.1],[-.12,4.1],[-.05,4.15],[0,4.25],[.08,4.05],[.12,3.9],[.14,3.75],[.15,3.55],[.14,3.2],[.13,3.0],[.08,2.85],[.03,2.7],[0,2.6],[-.05,2.45],[-.1,2.4],[-.15,2.3],[-.2,2.25],[-.25,2.2],[-.3,2.15],[-.35,2.2],[-.4,2.1],[-.45,2.05],[-.5,1.95],[-.55,1.9],[-.58,1.7],[-.62,1.75],[-.66,1.5],[-.7,1.45],[-.74,1.3],[-.78,1.25],[-.82,1.0],[-.85,.95],[-.88,.8],[-.92,.75],[-.95,.65],[-1,.55],[-1.05,.45],[-1.1,.5],[-1.15,.75],[-1.22,1.1],[-1.27,1.0],[-1.3,1.2],[-1.33,1.05],[-1.36,1.15],[-1.4,1.35],[-1.28,.85],[-1.25,.45],[-1.2,.3],[-.75,1.1],[-.6,1.2],[-.5,1.4],[-.4,1.75],[-.3,1.95],[-.2,2.0],[-.1,2.2],[0,2.35],[.07,2.65],[.18,3.0],[.19,3.2],[.17,3.45],[.18,3.85],[.1,4.25],[-.02,4.4],[-.1,4.25],[-.22,4.25],[-.28,3.9],[-.55,3.45],[-.65,3.35],[-.75,3.25],[-.85,3.05],[-.95,2.85],[-1.05,2.4],[-1.15,2.05],[-1.25,1.85],[-1.32,1.7]];

const SVGNS = 'http://www.w3.org/2000/svg';
function make(tag, parent, attrs) {
  const el = document.createElementNS(SVGNS, tag);
  for (const key in attrs) el.setAttribute(key, attrs[key]);
  parent.appendChild(el);
  return el;
}
function pointsOf(pairs, sx, sy) {
  return pairs.map(p => sx(p[0]).toFixed(1) + ',' + sy(p[1]).toFixed(1)).join(' ');
}
function edgeRadiusAt(edge, logM) {
  for (let i = 1; i < edge.length; i++) {
    const a = edge[i-1], b = edge[i];
    if (b[1] > a[1] && logM >= a[1] && logM <= b[1]) {
      return a[0] + (b[0]-a[0]) * (logM-a[1]) / (b[1]-a[1]);
    }
  }
  return null;
}
function drawDots(parent, pairs, sx, sy, radius, color, name) {
  const group = make('g', parent, {fill: color});
  
  
  pairs.forEach(p => {
    const dot = make('circle', group, {cx: sx(p[0]).toFixed(1), cy: sy(p[1]).toFixed(1), r: radius});
    
    
  });
}
function starPoints(cx, cy, outer, inner) {
  const out = [];
  for (let i = 0; i < 10; i++) {
    const r = i % 2 ? inner : outer;
    const a = -Math.PI/2 + i * Math.PI/5;
    out.push((cx + r*Math.cos(a)).toFixed(1) + ',' + (cy + r*Math.sin(a)).toFixed(1));
  }
  return out.join(' ');
}
function drawTick(parent, x1, y1, x2, y2, width, color, name) {
  const tick = make('line', parent, {x1, y1, x2, y2, stroke: color, 'stroke-width': width});
  
  
}

function drawPanel(root, cfg) {
  const sx = v => cfg.x0 + cfg.xDecade * (v + 2);
  const sy = v => cfg.y0 - cfg.yDecade * v;
  const xMax = (cfg.right - cfg.x0) / cfg.xDecade - 2;

  const hatch = make('g', root, {});
  
  
  for (let k = 0; k < 40; k++) {
    const level = .955 + k * cfg.hatchStep;
    if (level > 6.37) break;
    const edgeR = edgeRadiusAt(cfg.hatchEdge, level);
    if (edgeR === null) continue;
    const line = make('line', hatch, {x1: sx(-2), x2: sx(edgeR).toFixed(1), y1: sy(level).toFixed(1), y2: sy(level).toFixed(1), stroke: '#a650e4', 'stroke-width': 1.4});
    
    
  }
  const outline = make('polyline', hatch, {points: pointsOf(cfg.hatchEdge, sx, sy), fill: 'none', stroke: '#8a3ad8', 'stroke-width': 1.8});
  
  

  const yellow = make('polygon', root, {points: pointsOf(yellowEdge, sx, sy), fill: '#ffff00'});
  
  
  const green = make('polygon', root, {points: pointsOf(greenEdge, sx, sy), fill: '#00ff00'});
  
  

  drawDots(root, cfg.red, sx, sy, 4.3, '#ff2a00', 'red-clumps');
  drawDots(root, cfg.blue, sx, sy, 4.3, '#3300d0', 'blue-clumps');

  const axes = make('g', root, {});
  
  
  const frame = make('rect', axes, {x: cfg.left, y: cfg.top, width: cfg.right-cfg.left, height: cfg.bottom-cfg.top, fill: 'none', stroke: '#000', 'stroke-width': 3.6});
  
  
  xTickLogs.forEach((v, i) => {
    const x = sx(v);
    if (i > 0) {
      drawTick(axes, x, cfg.bottom, x, cfg.bottom-14, 3, '#000', 'x-major-tick');
      drawTick(axes, x, cfg.top, x, cfg.top+14, 3, '#000', 'x-major-tick');
    }
    const label = make('text', axes, {x: x, y: cfg.bottom+63, 'font-size': 50, 'text-anchor': 'middle'});
    
    
    label.textContent = xTickLabels[i];
    for (let m = 2; m <= 9; m++) {
      const lm = v + Math.log10(m);
      if (lm >= xMax) continue;
      drawTick(axes, sx(lm), cfg.bottom, sx(lm), cfg.bottom-7, 2.8, '#000', 'x-minor-tick');
      drawTick(axes, sx(lm), cfg.top, sx(lm), cfg.top+7, 2.8, '#000', 'x-minor-tick');
    }
  });
  yTickExponents.forEach(v => {
    const y = sy(v);
    drawTick(axes, cfg.left, y, cfg.left+20, y, 3.2, '#000', 'y-major-tick');
    drawTick(axes, cfg.right, y, cfg.right-20, y, 3.2, '#000', 'y-major-tick');
    const label = make('text', axes, {x: 146, y: y+17.6, 'font-size': 50, 'text-anchor': 'end'});
    
    
    label.textContent = '10';
    const sup = make('tspan', label, {'font-size': 31, dy: -23});
    sup.textContent = String(v);
  });
  yMinorExponents.forEach(v => {
    drawTick(axes, cfg.left, sy(v), cfg.left+10, sy(v), 3.2, '#000', 'y-minor-tick');
    drawTick(axes, cfg.right, sy(v), cfg.right-10, sy(v), 3.2, '#000', 'y-minor-tick');
  });

  cfg.stars.forEach(s => {
    const star = make('polygon', root, {points: starPoints(sx(s[0]), sy(s[1]), 16.5, 6.6), fill: '#10c8f8'});
    
    
  });
}

function drawInset(root, cfg) {
  const sx = v => cfg.left + 128 * (v + 2);
  const sy = v => cfg.y0 - 46 * v;
  const g = make('g', root, {});
  
  
  cfg.cores.forEach(core => {
    const blob = make('polygon', g, {points: pointsOf(core, sx, sy), fill: '#2a00e6'});
    
    
  });
  drawDots(g, cfg.blue, sx, sy, 2.3, '#2a00e6', 'inset-blue-clumps');
  drawDots(g, cfg.red, sx, sy, 2.3, '#f01414', 'inset-red-clumps');

  const frame = make('rect', g, {x: cfg.left, y: cfg.top, width: cfg.right-cfg.left, height: cfg.bottom-cfg.top, fill: 'none', stroke: '#4a4a4a', 'stroke-width': 1.5});
  
  
  const xMax = (cfg.right - cfg.left) / 128 - 2;
  insetXTickLogs.forEach((v, i) => {
    const x = sx(v);
    drawTick(g, x, cfg.bottom, x, cfg.bottom-6, 1, '#333', 'inset-x-major-tick');
    drawTick(g, x, cfg.top, x, cfg.top+6, 1, '#333', 'inset-x-major-tick');
    const label = make('text', g, {x: x, y: cfg.bottom+38, 'font-size': 30, 'text-anchor': 'middle'});
    
    
    label.textContent = insetXTickLabels[i];
    for (let m = 2; m <= 9; m++) {
      const lm = v + Math.log10(m);
      if (lm >= xMax) continue;
      drawTick(g, sx(lm), cfg.bottom, sx(lm), cfg.bottom-3, 1, '#333', 'inset-x-minor-tick');
      drawTick(g, sx(lm), cfg.top, sx(lm), cfg.top+3, 1, '#333', 'inset-x-minor-tick');
    }
  });
  for (let m = 2; m <= 9; m++) {
    const lm = Math.log10(m);
    if (lm < xMax) {
      drawTick(g, sx(lm), cfg.bottom, sx(lm), cfg.bottom-3, 1, '#333', 'inset-x-minor-tick');
      drawTick(g, sx(lm), cfg.top, sx(lm), cfg.top+3, 1, '#333', 'inset-x-minor-tick');
    }
  }
  insetYExponents.forEach(v => {
    const y = sy(v);
    drawTick(g, cfg.left, y, cfg.left+6, y, 1.2, '#333', 'inset-y-major-tick');
    drawTick(g, cfg.right, y, cfg.right-6, y, 1.2, '#333', 'inset-y-major-tick');
    const offset = v === 5 ? 18 : (v === -1 ? 0 : 10.6);
    const label = make('text', g, {x: cfg.left-8, y: y+offset, 'font-size': 30, 'text-anchor': 'end'});
    
    
    label.textContent = '10';
    const sup = make('tspan', label, {'font-size': 19, dy: -13});
    sup.textContent = String(v);
    if (v < 5) {
      for (let m = 2; m <= 9; m++) {
        const lm = v + Math.log10(m);
        drawTick(g, cfg.left, sy(lm), cfg.left+3, sy(lm), 1, '#333', 'inset-y-minor-tick');
        drawTick(g, cfg.right, sy(lm), cfg.right-3, sy(lm), 1, '#333', 'inset-y-minor-tick');
      }
    }
  });
}

const panelOne = document.getElementById('panel-1');
const panelTwo = document.getElementById('panel-2');
drawPanel(panelOne, {left:160.5, right:1196.8, top:76.3, bottom:744, x0:159.5, xDecade:274, y0:653.7, yDecade:90.5, hatchStep:.1528, hatchEdge:hatchEdge1, red:panel1Red, blue:panel1Blue, stars:stars1});
drawInset(panelOne, {left:792, right:1137, top:360, bottom:636.7, y0:590.7, cores:[inset1Core], red:inset1Red, blue:inset1Blue});
drawPanel(panelTwo, {left:160.5, right:1196.8, top:1000, bottom:1669, x0:160, xDecade:263.5, y0:1579, yDecade:90.8, hatchStep:.152, hatchEdge:hatchEdge2, red:panel2Red, blue:panel2Blue, stars:stars2});
drawInset(panelTwo, {left:792, right:1137, top:1285.7, bottom:1561.7, y0:1515.7, cores:[inset2CoreLower, inset2CoreUpper], red:inset2Red, blue:inset2Blue});
</script>
</body>
</html>
